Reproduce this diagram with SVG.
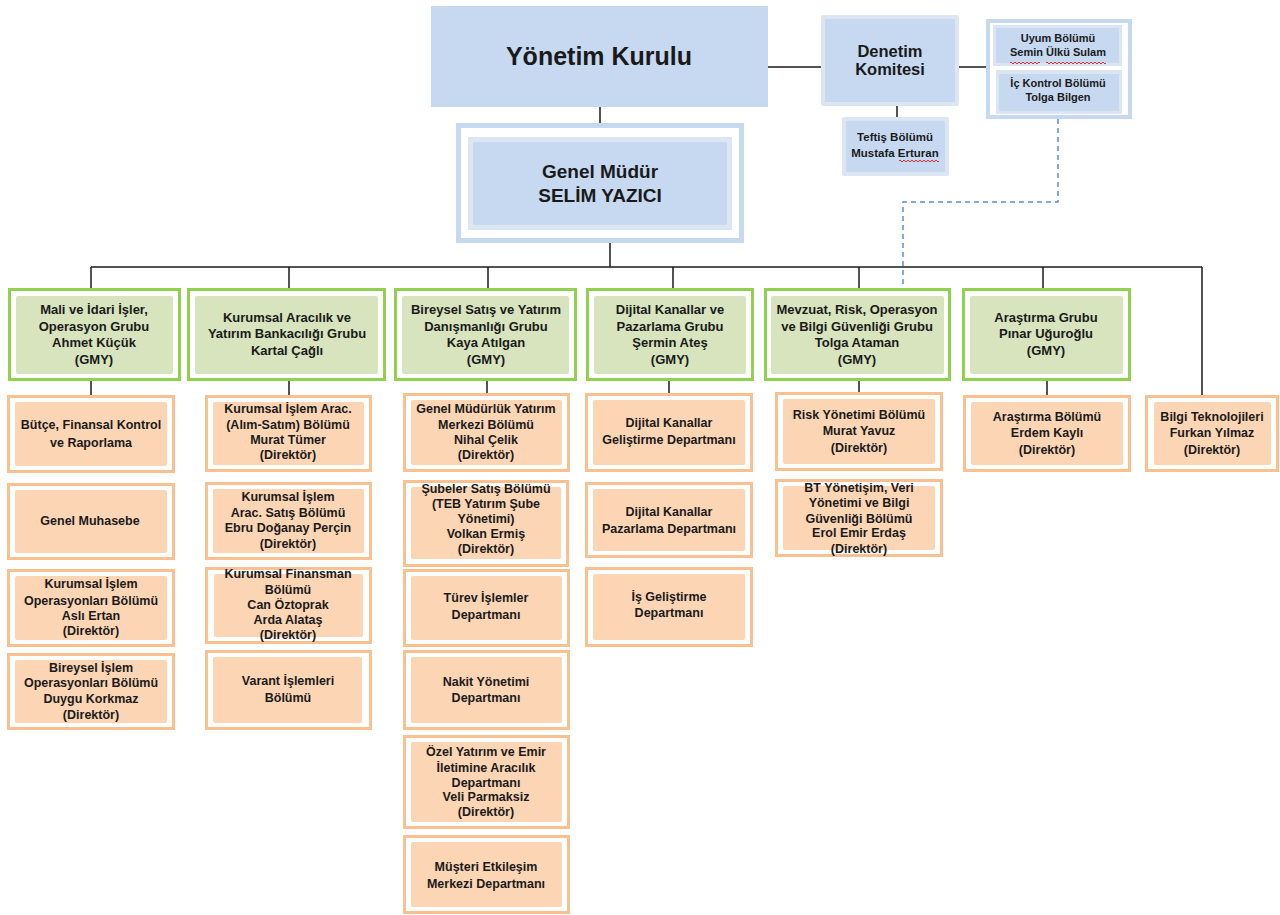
<svg xmlns="http://www.w3.org/2000/svg" width="1280" height="915" viewBox="0 0 1280 915">
<style>
text{font-family:"Liberation Sans",Arial,sans-serif;font-weight:bold;fill:#1a1a1a;text-anchor:middle}
.g text{font-size:13px}
.o text{font-size:12.5px}
.gout{fill:#fff;stroke:#92d050;stroke-width:3}
.gin{fill:#d7e4bd}
.oout{fill:#fff;stroke:#fac090;stroke-width:3}
.oin{fill:#fcd5b5}
.bl{fill:#c6d9f1}
.bll{fill:#dce6f2}
.conn line{stroke:#1a1a1a;stroke-width:1.5;fill:none}
.conn .dash{stroke:#5b8fd0;stroke-width:1.5;fill:none;stroke-dasharray:5 4}
.sq{stroke:#e03030;stroke-width:1;fill:none}
</style>
<rect width="1280" height="915" fill="#fff"/>
<g class="conn">
<line x1="600" y1="107" x2="600" y2="123"/>
<line x1="768" y1="67" x2="821" y2="67"/>
<line x1="959" y1="67" x2="986" y2="67"/>
<line x1="897" y1="106" x2="897" y2="117"/>
<line x1="610" y1="243" x2="610" y2="267"/>
<line x1="91" y1="267" x2="1202" y2="267"/>
<line x1="91" y1="267" x2="91" y2="288"/>
<line x1="289" y1="267" x2="289" y2="288"/>
<line x1="488" y1="267" x2="488" y2="288"/>
<line x1="673" y1="267" x2="673" y2="288"/>
<line x1="859" y1="267" x2="859" y2="288"/>
<line x1="1043" y1="267" x2="1043" y2="288"/>
<line x1="1202" y1="267" x2="1202" y2="395"/>
<line x1="91" y1="381" x2="91" y2="395"/>
<line x1="289" y1="381" x2="289" y2="395"/>
<line x1="487" y1="381" x2="487" y2="393"/>
<line x1="669" y1="381" x2="669" y2="393"/>
<line x1="859" y1="381" x2="859" y2="392"/>
<line x1="1047" y1="381" x2="1047" y2="395"/>
<polyline class="dash" points="1058,119 1058,202 903,202 903,288"/>
</g>

<g id="yonetim-kurulu">
<rect class="bl" x="431" y="6" width="337" height="101"/>
<text x="599" y="65" style="font-size:25px">Yönetim Kurulu</text>
</g>

<g id="denetim-komitesi">
<rect class="bll" x="821" y="15" width="138" height="91" rx="2"/>
<rect class="bl" x="825" y="19" width="130" height="83"/>
<text x="890" y="57" style="font-size:16.5px">Denetim</text>
<text x="890" y="75" style="font-size:16.5px">Komitesi</text>
</g>

<g id="uyum-ic-kontrol">
<rect x="988" y="21" width="142" height="96" fill="#fff" stroke="#c6d9f1" stroke-width="4"/>
<rect class="bll" x="993" y="25" width="129" height="41"/>
<rect class="bl" x="996" y="28" width="123" height="35"/>
<rect class="bll" x="996" y="70" width="126" height="44"/>
<rect class="bl" x="999" y="74" width="120" height="37"/>
<text x="1058" y="42" style="font-size:11px">Uyum Bölümü</text>
<text x="1058" y="56" style="font-size:11px">Semin Ülkü Sulam</text>
<text x="1058" y="87" style="font-size:11px">İç Kontrol Bölümü</text>
<text x="1058" y="101" style="font-size:11px">Tolga Bilgen</text>
<path class="sq" d="M1010 63 q1 -2 2 0 t2 0 t2 0 t2 0 t2 0 t2 0 t2 0 t2 0 t2 0 t2 0 t2 0 t2 0 t2 0 t2 0 t2 0 M1046 63 q1 -2 2 0 t2 0 t2 0 t2 0 t2 0 t2 0 t2 0 t2 0 t2 0 t2 0 t2 0 t2 0 t2 0 t2 0 t2 0 t2 0 t2 0 t2 0 t2 0 t2 0 t2 0 t2 0 t2 0 t2 0 t2 0 t2 0 t2 0 t2 0 t2 0 t2 0"/>
</g>

<g id="teftis">
<rect class="bll" x="842" y="117" width="107" height="59" rx="2"/>
<rect class="bl" x="846" y="121" width="99" height="51"/>
<text x="895" y="141" style="font-size:11.5px">Teftiş Bölümü</text>
<text x="895" y="157" style="font-size:11.5px">Mustafa Erturan</text>
<path class="sq" d="M899 161 q1 -2 2 0 t2 0 t2 0 t2 0 t2 0 t2 0 t2 0 t2 0 t2 0 t2 0 t2 0 t2 0 t2 0 t2 0 t2 0 t2 0 t2 0 t2 0 t2 0 t2 0"/>
</g>

<g id="genel-mudur">
<rect x="458.5" y="125.5" width="283" height="115" fill="#fff" stroke="#c6d9f1" stroke-width="5"/>
<rect class="bll" x="468" y="137" width="264" height="93"/>
<rect class="bl" x="473" y="142" width="254" height="83"/>
<text x="600" y="178" style="font-size:19px">Genel Müdür</text>
<text x="600" y="202" style="font-size:19px">SELİM YAZICI</text>
</g>

<!-- Green group boxes -->
<g id="g-mali" class="g">
<rect class="gout" x="9.5" y="289.5" width="170" height="90"/>
<rect class="gin" x="16" y="296" width="157" height="78" rx="2"/>
<text x="94" y="314">Mali ve İdari İşler,</text>
<text x="94" y="331">Operasyon Grubu</text>
<text x="94" y="347">Ahmet Küçük</text>
<text x="94" y="364">(GMY)</text>
</g>
<g id="g-kurumsal" class="g">
<rect class="gout" x="188.5" y="289.5" width="196" height="90"/>
<rect class="gin" x="195" y="296" width="183" height="78" rx="2"/>
<text x="287" y="322">Kurumsal Aracılık ve</text>
<text x="287" y="338">Yatırım Bankacılığı Grubu</text>
<text x="287" y="355">Kartal Çağlı</text>
</g>
<g id="g-bireysel" class="g">
<rect class="gout" x="395.5" y="289.5" width="180" height="90"/>
<rect class="gin" x="402" y="296" width="167" height="78" rx="2"/>
<text x="486" y="314">Bireysel Satış ve Yatırım</text>
<text x="486" y="331">Danışmanlığı Grubu</text>
<text x="486" y="347">Kaya Atılgan</text>
<text x="486" y="364">(GMY)</text>
</g>
<g id="g-dijital" class="g">
<rect class="gout" x="587.5" y="289.5" width="165" height="90"/>
<rect class="gin" x="594" y="296" width="152" height="78" rx="2"/>
<text x="670" y="314">Dijital Kanallar ve</text>
<text x="670" y="331">Pazarlama Grubu</text>
<text x="670" y="347">Şermin Ateş</text>
<text x="670" y="364">(GMY)</text>
</g>
<g id="g-mevzuat" class="g">
<rect class="gout" x="765.5" y="289.5" width="184" height="90"/>
<rect class="gin" x="771" y="296" width="173" height="78" rx="2"/>
<text x="857" y="314">Mevzuat, Risk, Operasyon</text>
<text x="857" y="331">ve Bilgi Güvenliği Grubu</text>
<text x="857" y="347">Tolga Ataman</text>
<text x="857" y="364">(GMY)</text>
</g>
<g id="g-arastirma" class="g">
<rect class="gout" x="963.5" y="289.5" width="166" height="90"/>
<rect class="gin" x="970" y="296" width="153" height="78" rx="2"/>
<text x="1046" y="322">Araştırma Grubu</text>
<text x="1046" y="338">Pınar Uğuroğlu</text>
<text x="1046" y="355">(GMY)</text>
</g>

<!-- Column 1 -->
<g id="o-butce" class="o">
<rect class="oout" x="8.5" y="396.5" width="165" height="75"/>
<rect class="oin" x="15" y="402" width="152" height="64" rx="2"/>
<text x="91" y="429">Bütçe, Finansal Kontrol</text>
<text x="91" y="447">ve Raporlama</text>
</g>
<g id="o-muhasebe" class="o">
<rect class="oout" x="8.5" y="484.5" width="165" height="74"/>
<rect class="oin" x="15" y="490" width="152" height="63" rx="2"/>
<text x="90" y="525">Genel Muhasebe</text>
</g>
<g id="o-kurumsal-op" class="o">
<rect class="oout" x="8.5" y="570.5" width="165" height="75"/>
<rect class="oin" x="15" y="576" width="152" height="64" rx="2"/>
<text x="91" y="588">Kurumsal İşlem</text>
<text x="91" y="605">Operasyonları Bölümü</text>
<text x="91" y="620">Aslı Ertan</text>
<text x="91" y="635">(Direktör)</text>
</g>
<g id="o-bireysel-op" class="o">
<rect class="oout" x="8.5" y="654.5" width="165" height="74"/>
<rect class="oin" x="15" y="660" width="152" height="63" rx="2"/>
<text x="91" y="672">Bireysel İşlem</text>
<text x="91" y="687">Operasyonları Bölümü</text>
<text x="91" y="703">Duygu Korkmaz</text>
<text x="91" y="719">(Direktör)</text>
</g>

<!-- Column 2 -->
<g id="o-alim-satim" class="o">
<rect class="oout" x="206.5" y="396.5" width="164" height="74"/>
<rect class="oin" x="213" y="402" width="151" height="63" rx="2"/>
<text x="288" y="413">Kurumsal İşlem Arac.</text>
<text x="288" y="429">(Alım-Satım) Bölümü</text>
<text x="288" y="444">Murat Tümer</text>
<text x="288" y="459">(Direktör)</text>
</g>
<g id="o-arac-satis" class="o">
<rect class="oout" x="206.5" y="483.5" width="164" height="75"/>
<rect class="oin" x="213" y="489" width="151" height="64" rx="2"/>
<text x="288" y="501">Kurumsal İşlem</text>
<text x="288" y="517">Arac. Satış Bölümü</text>
<text x="288" y="532">Ebru Doğanay Perçin</text>
<text x="288" y="548">(Direktör)</text>
</g>
<g id="o-finansman" class="o">
<rect class="oout" x="206.5" y="568.5" width="164" height="74"/>
<rect class="oin" x="214" y="574" width="149" height="63" rx="2"/>
<text x="288" y="578">Kurumsal Finansman</text>
<text x="288" y="594">Bölümü</text>
<text x="288" y="609">Can Öztoprak</text>
<text x="288" y="624">Arda Alataş</text>
<text x="288" y="639">(Direktör)</text>
</g>
<g id="o-varant" class="o">
<rect class="oout" x="206.5" y="651.5" width="164" height="77"/>
<rect class="oin" x="213" y="657" width="149" height="66" rx="2"/>
<text x="288" y="685">Varant İşlemleri</text>
<text x="288" y="702">Bölümü</text>
</g>

<!-- Column 3 -->
<g id="o-gm-yatirim" class="o">
<rect class="oout" x="404.5" y="394.5" width="164" height="76"/>
<rect class="oin" x="411" y="400" width="151" height="65" rx="2"/>
<text x="486" y="413">Genel Müdürlük Yatırım</text>
<text x="486" y="429">Merkezi Bölümü</text>
<text x="486" y="444">Nihal Çelik</text>
<text x="486" y="459">(Direktör)</text>
</g>
<g id="o-subeler" class="o">
<rect class="oout" x="404.5" y="481.5" width="163" height="84"/>
<rect class="oin" x="411" y="487" width="150" height="72" rx="2"/>
<text x="486" y="493">Şubeler Satış Bölümü</text>
<text x="486" y="508">(TEB Yatırım Şube</text>
<text x="486" y="523">Yönetimi)</text>
<text x="486" y="538">Volkan Ermiş</text>
<text x="486" y="553">(Direktör)</text>
</g>
<g id="o-turev" class="o">
<rect class="oout" x="404.5" y="570.5" width="164" height="75"/>
<rect class="oin" x="411" y="576" width="151" height="64" rx="2"/>
<text x="486" y="602">Türev İşlemler</text>
<text x="486" y="619">Departmanı</text>
</g>
<g id="o-nakit" class="o">
<rect class="oout" x="404.5" y="651.5" width="164" height="77"/>
<rect class="oin" x="411" y="657" width="151" height="66" rx="2"/>
<text x="486" y="686">Nakit Yönetimi</text>
<text x="486" y="702">Departmanı</text>
</g>
<g id="o-ozel" class="o">
<rect class="oout" x="404.5" y="736.5" width="164" height="91"/>
<rect class="oin" x="411" y="742" width="151" height="80" rx="2"/>
<text x="486" y="756">Özel Yatırım ve Emir</text>
<text x="486" y="772">İletimine Aracılık</text>
<text x="486" y="787">Departmanı</text>
<text x="486" y="801">Veli Parmaksiz</text>
<text x="486" y="816">(Direktör)</text>
</g>
<g id="o-musteri" class="o">
<rect class="oout" x="404.5" y="836.5" width="164" height="76"/>
<rect class="oin" x="411" y="842" width="151" height="65" rx="2"/>
<text x="486" y="871">Müşteri Etkileşim</text>
<text x="486" y="888">Merkezi Departmanı</text>
</g>

<!-- Column 4 -->
<g id="o-dijital-gel" class="o">
<rect class="oout" x="586.5" y="394.5" width="165" height="76"/>
<rect class="oin" x="593" y="400" width="152" height="65" rx="2"/>
<text x="669" y="427">Dijital Kanallar</text>
<text x="669" y="444">Geliştirme Departmanı</text>
</g>
<g id="o-dijital-paz" class="o">
<rect class="oout" x="586.5" y="483.5" width="165" height="73"/>
<rect class="oin" x="593" y="489" width="152" height="62" rx="2"/>
<text x="669" y="516">Dijital Kanallar</text>
<text x="669" y="533">Pazarlama Departmanı</text>
</g>
<g id="o-is-gel" class="o">
<rect class="oout" x="586.5" y="568.5" width="165" height="77"/>
<rect class="oin" x="593" y="574" width="152" height="66" rx="2"/>
<text x="669" y="601">İş Geliştirme</text>
<text x="669" y="617">Departmanı</text>
</g>

<!-- Column 5 -->
<g id="o-risk" class="o">
<rect class="oout" x="776.5" y="393.5" width="165" height="76"/>
<rect class="oin" x="783" y="399" width="152" height="65" rx="2"/>
<text x="859" y="419">Risk Yönetimi Bölümü</text>
<text x="859" y="435">Murat Yavuz</text>
<text x="859" y="452">(Direktör)</text>
</g>
<g id="o-bt-yonetisim" class="o">
<rect class="oout" x="776.5" y="480.5" width="165" height="75"/>
<rect class="oin" x="783" y="486" width="152" height="64" rx="2"/>
<text x="859" y="492">BT Yönetişim, Veri</text>
<text x="859" y="507">Yönetimi ve Bilgi</text>
<text x="859" y="523">Güvenliği Bölümü</text>
<text x="859" y="537">Erol Emir Erdaş</text>
<text x="859" y="553">(Direktör)</text>
</g>

<!-- Column 6 -->
<g id="o-arastirma" class="o">
<rect class="oout" x="964.5" y="396.5" width="165" height="74"/>
<rect class="oin" x="971" y="402" width="152" height="63" rx="2"/>
<text x="1047" y="421">Araştırma Bölümü</text>
<text x="1047" y="437">Erdem Kaylı</text>
<text x="1047" y="454">(Direktör)</text>
</g>

<!-- Column 7 -->
<g id="o-bilgi-tek" class="o">
<rect class="oout" x="1146.5" y="396.5" width="131" height="74"/>
<rect class="oin" x="1154" y="402" width="117" height="63" rx="2"/>
<text x="1212" y="421">Bilgi Teknolojileri</text>
<text x="1212" y="437">Furkan Yılmaz</text>
<text x="1212" y="454">(Direktör)</text>
</g>
</svg>
